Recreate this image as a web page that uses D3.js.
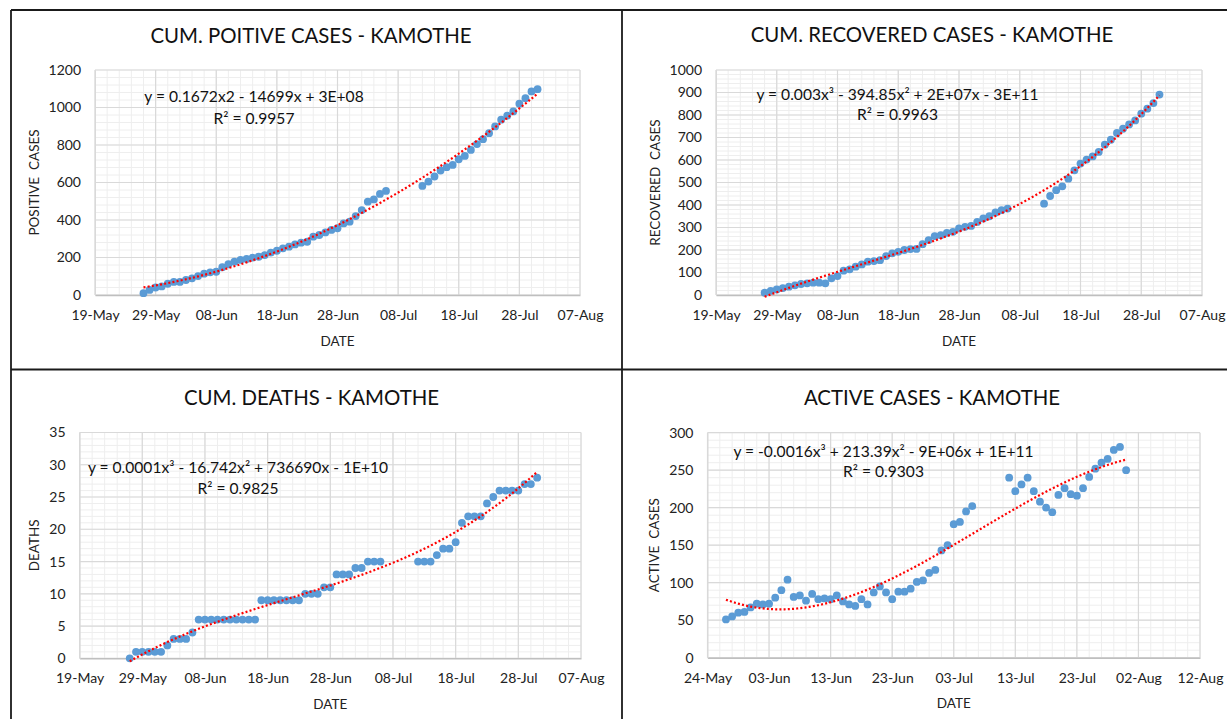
<!DOCTYPE html>
<html>
<head>
<meta charset="utf-8">
<script src="https://cdn.jsdelivr.net/npm/d3@7"></script>
<style>
    body { margin: 0; background: #fff; }
    svg text { font-family: Lato, "Open Sans", sans-serif; }
</style>
</head>
<body>
<div id="chart"></div>
<script>
// report dates (no reports between 07-Jul and 11-Jul)
const dates = [
    "27-May", "28-May", "29-May", "30-May", "31-May",
    "01-Jun", "02-Jun", "03-Jun", "04-Jun", "05-Jun", "06-Jun", "07-Jun", "08-Jun", "09-Jun", "10-Jun",
    "11-Jun", "12-Jun", "13-Jun", "14-Jun", "15-Jun", "16-Jun", "17-Jun", "18-Jun", "19-Jun", "20-Jun",
    "21-Jun", "22-Jun", "23-Jun", "24-Jun", "25-Jun", "26-Jun", "27-Jun", "28-Jun", "29-Jun", "30-Jun",
    "01-Jul", "02-Jul", "03-Jul", "04-Jul", "05-Jul", "06-Jul",
    "12-Jul", "13-Jul", "14-Jul", "15-Jul", "16-Jul", "17-Jul", "18-Jul", "19-Jul", "20-Jul", "21-Jul",
    "22-Jul", "23-Jul", "24-Jul", "25-Jul", "26-Jul", "27-Jul", "28-Jul", "29-Jul", "30-Jul", "31-Jul"
];

const positiveCases = [
    10, 27, 40, 46, 60, 70, 70, 80, 89, 101, 114, 121, 124, 148, 164, 178, 187, 192, 199, 204,
    213, 226, 236, 249, 258, 270, 279, 284, 311, 320, 334, 347, 356, 382, 391, 421, 453, 498, 510, 539, 555,
    582, 605, 632, 664, 682, 694, 724, 742, 774, 805, 831, 863, 899, 935, 956, 979, 1020, 1050, 1086, 1098
];

const recoveredCases = [
    10, 18, 25, 31, 37, 43, 49, 52, 55, 55, 52, 74, 84, 108, 114, 126, 136, 148, 151, 155,
    173, 185, 192, 200, 204, 205, 226, 244, 262, 266, 276, 281, 296, 303, 307, 325, 340, 350, 367, 377, 384,
    406, 440, 466, 483, 517, 554, 584, 602, 616, 636, 668, 690, 720, 739, 758, 776, 806, 828, 853, 891
];

const deaths = [
    0, 1, 1, 1, 1, 1, 2, 3, 3, 3, 4, 6, 6, 6, 6, 6, 6, 6, 6, 6,
    6, 9, 9, 9, 9, 9, 9, 9, 10, 10, 10, 11, 11, 13, 13, 13, 14, 14, 15, 15, 15,
    15, 15, 15, 16, 17, 17, 18, 21, 22, 22, 22, 24, 25, 26, 26, 26, 26, 27, 27, 28
];

const activeCases = [
    51, 55, 60, 61, 67, 72, 71, 72, 80, 90, 104, 81, 83, 76, 85, 78, 79, 78, 83, 75,
    71, 69, 78, 71, 87, 95, 87, 78, 88, 88, 92, 101, 103, 113, 117, 143, 150, 178, 181, 195, 202,
    240, 222, 231, 240, 222, 208, 200, 194, 217, 226, 218, 216, 226, 241, 252, 260, 265, 277, 281, 250
];

const panels = [
    {
        title: "CUM. POITIVE CASES - KAMOTHE", yTitle: "POSITIVE  CASES",
        values: positiveCases, order: 2, yMax: 1200, yStep: 200, xStart: "19-May",
        equation: "y = 0.1672x2 - 14699x + 3E+08", r2: "R² = 0.9957",
        left: 95, right: 580, top: 70, bottom: 295,
        titleX: 311, titleY: 42.5, eqX: 254, eqY: 101.5, r2Y: 124, yTitleX: 34
    },
    {
        title: "CUM. RECOVERED CASES - KAMOTHE", yTitle: "RECOVERED  CASES",
        values: recoveredCases, order: 3, yMax: 1000, yStep: 100, xStart: "19-May",
        equation: "y = 0.003x³ - 394.85x² + 2E+07x - 3E+11", r2: "R² = 0.9963",
        left: 716, right: 1202, top: 70, bottom: 295,
        titleX: 932, titleY: 42, eqX: 897.5, eqY: 99.5, r2Y: 119.5, yTitleX: 655
    },
    {
        title: "CUM. DEATHS - KAMOTHE", yTitle: "DEATHS",
        values: deaths, order: 3, yMax: 35, yStep: 5, xStart: "19-May",
        equation: "y = 0.0001x³ - 16.742x² + 736690x - 1E+10", r2: "R² = 0.9825",
        left: 79.6, right: 581, top: 432.5, bottom: 658.3,
        titleX: 311.5, titleY: 405, eqX: 238, eqY: 472.5, r2Y: 493.5, yTitleX: 34
    },
    {
        title: "ACTIVE CASES - KAMOTHE", yTitle: "ACTIVE  CASES",
        values: activeCases, order: 3, yMax: 300, yStep: 50, xStart: "24-May",
        equation: "y = -0.0016x³ + 213.39x² - 9E+06x + 1E+11", r2: "R² = 0.9303",
        left: 707.5, right: 1200, top: 432.7, bottom: 657.7,
        titleX: 932, titleY: 405, eqX: 883.5, eqY: 457, r2Y: 477, yTitleX: 654
    }
];

const width = 1227;
const height = 719;
const parseDate = d3.timeParse("%d-%b-%Y");
const formatDate = d3.timeFormat("%d-%b");
const dayMs = 86400000;
const reportDays = dates.map(s => parseDate(s + "-2020"));

const svg = d3.select("#chart")
    .append("svg")
    .attr("width", width)
    .attr("height", height);

// least squares polynomial (like the excel trendline)
function polyFit(xs, ys, order) {
    const n = order + 1;
    const A = [];
    for (let i = 0; i < n; i++) {
        A.push([]);
        for (let j = 0; j <= n; j++) A[i].push(0);
    }
    xs.forEach((x, k) => {
        for (let i = 0; i < n; i++) {
            for (let j = 0; j < n; j++) A[i][j] += Math.pow(x, i + j);
            A[i][n] += Math.pow(x, i) * ys[k];
        }
    });
    for (let c = 0; c < n; c++) {
        let p = c;
        for (let r = c + 1; r < n; r++) if (Math.abs(A[r][c]) > Math.abs(A[p][c])) p = r;
        [A[c], A[p]] = [A[p], A[c]];
        for (let r = 0; r < n; r++) {
            if (r === c) continue;
            const f = A[r][c] / A[c][c];
            for (let j = c; j <= n; j++) A[r][j] -= f * A[c][j];
        }
    }
    return A.map((row, i) => row[n] / row[i]);
}

function drawPanel(p) {
    const g = svg.append("g");
    const start = parseDate(p.xStart + "-2020");
    const end = d3.timeDay.offset(start, 80);

    const x = d3.scaleTime().domain([start, end]).range([p.left, p.right]);
    const y = d3.scaleLinear().domain([0, p.yMax]).range([p.bottom, p.top]);

    const majorX = d3.range(0, 81, 10).map(k => d3.timeDay.offset(start, k));
    const minorX = d3.range(0, 81, 2).map(k => d3.timeDay.offset(start, k));
    const majorY = d3.range(0, p.yMax + 0.001, p.yStep);
    const minorY = d3.range(0, p.yMax + 0.001, p.yStep / 5);

    // minor grid
    g.append("g").selectAll("line").data(minorX).join("line")
        .attr("x1", d => x(d)).attr("x2", d => x(d))
        .attr("y1", p.top).attr("y2", p.bottom)
        .attr("stroke", "#eeeeee").attr("stroke-width", 1);
    g.append("g").selectAll("line").data(minorY).join("line")
        .attr("x1", p.left).attr("x2", p.right)
        .attr("y1", d => y(d)).attr("y2", d => y(d))
        .attr("stroke", "#eeeeee").attr("stroke-width", 1);

    // major grid
    g.append("g").selectAll("line").data(majorX).join("line")
        .attr("x1", d => x(d)).attr("x2", d => x(d))
        .attr("y1", p.top).attr("y2", p.bottom)
        .attr("stroke", "#d9d9d9").attr("stroke-width", 1.2);
    g.append("g").selectAll("line").data(majorY).join("line")
        .attr("x1", p.left).attr("x2", p.right)
        .attr("y1", d => y(d)).attr("y2", d => y(d))
        .attr("stroke", "#d9d9d9").attr("stroke-width", 1.2);

    // axes
    const xAxis = g.append("g")
        .attr("transform", `translate(0,${p.bottom})`)
        .call(d3.axisBottom(x).tickValues(majorX).tickFormat(formatDate).tickSize(0).tickPadding(15));
    xAxis.select(".domain").attr("stroke", "#bfbfbf").attr("stroke-width", 1.5);
    xAxis.selectAll("text").attr("font-size", 14).attr("fill", "#222");

    const yAxis = g.append("g")
        .attr("transform", `translate(${p.left},0)`)
        .call(d3.axisLeft(y).tickValues(majorY).tickFormat(d3.format("d")).tickSize(0).tickPadding(14));
    yAxis.select(".domain").attr("stroke", "#d9d9d9");
    yAxis.selectAll("text").attr("font-size", 14).attr("fill", "#222");

    // titles
    g.append("text")
        .attr("x", p.titleX).attr("y", p.titleY)
        .attr("text-anchor", "middle")
        .attr("font-size", 20.4).attr("fill", "#111")
        .text(p.title);

    g.append("text")
        .attr("x", (p.left + p.right) / 2).attr("y", p.bottom + 50.5)
        .attr("text-anchor", "middle")
        .attr("font-size", 13.5).attr("fill", "#222")
        .text("DATE");

    g.append("text")
        .attr("transform", `translate(${p.yTitleX},${(p.top + p.bottom) / 2}) rotate(-90)`)
        .attr("text-anchor", "middle")
        .attr("dominant-baseline", "central")
        .attr("font-size", 13.5).attr("fill", "#222")
        .style("white-space", "pre")
        .text(p.yTitle);

    // points
    const points = reportDays.map((d, i) => ({ date: d, value: p.values[i] }));

    g.append("g").selectAll("circle").data(points).join("circle")
        .attr("cx", d => x(d.date))
        .attr("cy", d => y(d.value))
        .attr("r", 3.9)
        .attr("fill", "#5b9bd5");

    // trendline
    const t0 = reportDays[0].getTime();
    const ts = reportDays.map(d => (d.getTime() - t0) / dayMs / 10);
    const coef = polyFit(ts, p.values, p.order);
    const tLast = ts[ts.length - 1];
    const trend = d3.range(0, tLast + 0.0001, 0.05).map(t => ({
        date: new Date(t0 + t * 10 * dayMs),
        value: coef.reduce((s, c, i) => s + c * Math.pow(t, i), 0)
    }));

    const line = d3.line().x(d => x(d.date)).y(d => y(d.value));
    g.append("path")
        .datum(trend)
        .attr("d", line)
        .attr("fill", "none")
        .attr("stroke", "#ff0000")
        .attr("stroke-width", 2.2)
        .attr("stroke-dasharray", "2,2.2");

    // equation label
    g.append("text")
        .attr("x", p.eqX).attr("y", p.eqY)
        .attr("text-anchor", "middle")
        .attr("font-size", 15.6).attr("fill", "#111")
        .text(p.equation);
    g.append("text")
        .attr("x", p.eqX).attr("y", p.r2Y)
        .attr("text-anchor", "middle")
        .attr("font-size", 15.6).attr("fill", "#111")
        .text(p.r2);
}

panels.forEach(drawPanel);

// table borders around the four charts
const borders = [
    [11, 10, width, 10],
    [11, 10, 11, height],
    [622, 10, 622, height],
    [11, 369.5, width, 369.5]
];
svg.append("g").selectAll("line").data(borders).join("line")
    .attr("x1", d => d[0]).attr("y1", d => d[1])
    .attr("x2", d => d[2]).attr("y2", d => d[3])
    .attr("stroke", "#1a1a1a")
    .attr("stroke-width", 1.8);
</script>
</body>
</html>
